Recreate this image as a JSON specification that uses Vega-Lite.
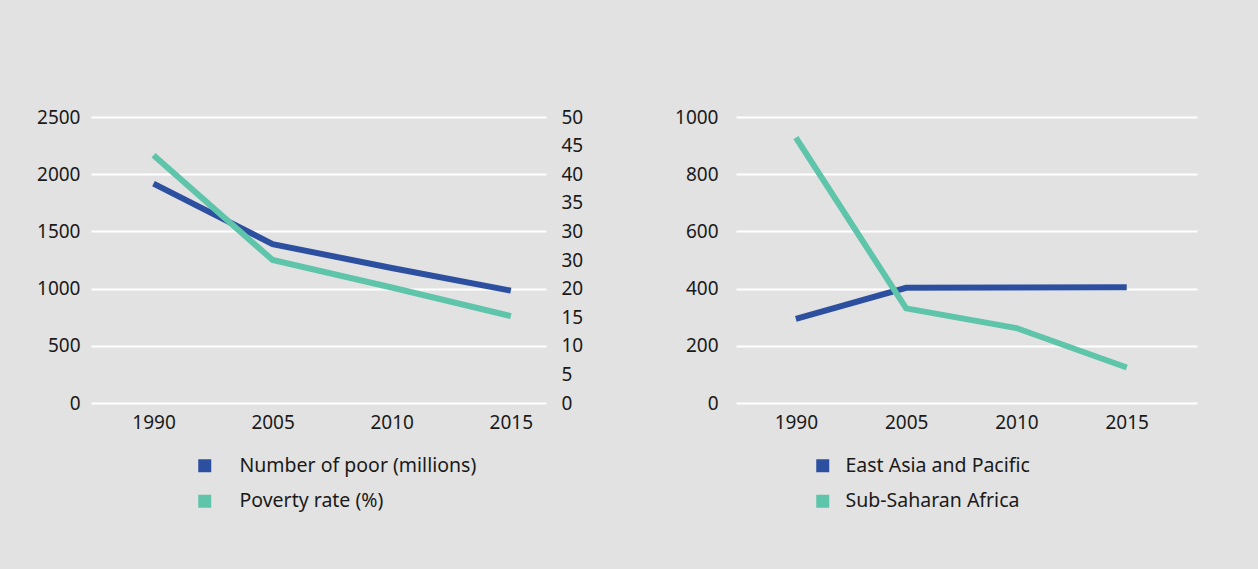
{
  "$schema": "https://vega.github.io/schema/vega-lite/v6.json",
  "background": "#e1e2e1",
  "padding": {"left": 36, "top": 108, "right": 61, "bottom": 59},
  "config": {
    "font": "Noto Sans",
    "view": {"stroke": null},
    "concat": {"spacing": 190},
    "axis": {
      "labelFont": "Noto Sans",
      "labelFontSize": 19,
      "labelColor": "#1a1a1a",
      "domain": false,
      "ticks": false,
      "title": null,
      "gridColor": "#ffffff",
      "gridWidth": 2,
      "gridOpacity": 1,
      "format": "d"
    },
    "legend": {
      "labelFont": "Noto Sans",
      "labelFontSize": 19.5,
      "labelColor": "#1a1a1a",
      "labelLimit": 0,
      "padding": 0
    }
  },
  "datasets": {
    "global": [
      {"year": "1990", "series": "Number of poor (millions)", "value": 1918},
      {"year": "2005", "series": "Number of poor (millions)", "value": 1389},
      {"year": "2010", "series": "Number of poor (millions)", "value": 1180},
      {"year": "2015", "series": "Number of poor (millions)", "value": 982},
      {"year": "1990", "series": "Poverty rate (%)", "value": 43.3},
      {"year": "2005", "series": "Poverty rate (%)", "value": 25.0},
      {"year": "2010", "series": "Poverty rate (%)", "value": 20.2},
      {"year": "2015", "series": "Poverty rate (%)", "value": 15.2}
    ],
    "regional": [
      {"year": "1990", "region": "East Asia and Pacific", "value": 294},
      {"year": "2005", "region": "East Asia and Pacific", "value": 403},
      {"year": "2010", "region": "East Asia and Pacific", "value": 404},
      {"year": "2015", "region": "East Asia and Pacific", "value": 405},
      {"year": "1990", "region": "Sub-Saharan Africa", "value": 928},
      {"year": "2005", "region": "Sub-Saharan Africa", "value": 331},
      {"year": "2010", "region": "Sub-Saharan Africa", "value": 262},
      {"year": "2015", "region": "Sub-Saharan Africa", "value": 124}
    ]
  },
  "hconcat": [
    {
      "width": 455,
      "height": 286,
      "data": {"name": "global"},
      "encoding": {
        "x": {
          "field": "year",
          "type": "ordinal",
          "scale": {"type": "point", "padding": 0.41, "align": 0.64},
          "axis": {"labelAngle": 0, "labelPadding": 10, "grid": false}
        },
        "color": {
          "field": "series",
          "type": "nominal",
          "scale": {
            "domain": ["Number of poor (millions)", "Poverty rate (%)"],
            "range": ["#2d4fa0", "#5ec5aa"]
          },
          "legend": {
            "orient": "none",
            "legendX": 104,
            "legendY": 339,
            "title": null,
            "symbolType": "square",
            "symbolSize": 169,
            "symbolStrokeWidth": 0,
            "labelOffset": 25,
            "rowPadding": 14.5,
            "encode": {
              "symbols": {
                "update": {
                  "fill": {"signal": "datum.value === 'Number of poor (millions)' ? '#2d4fa0' : '#5ec5aa'"},
                  "fillOpacity": {"value": 1}
                }
              }
            }
          }
        }
      },
      "layer": [
        {
          "transform": [{"filter": "datum.series === 'Number of poor (millions)'"}],
          "mark": {"type": "line", "strokeWidth": 6, "strokeCap": "butt"},
          "encoding": {
            "y": {
              "field": "value",
              "type": "quantitative",
              "scale": {"domain": [0, 2500]},
              "axis": {"orient": "left", "values": [0, 500, 1000, 1500, 2000, 2500], "labelPadding": 11, "grid": true}
            }
          }
        },
        {
          "transform": [{"filter": "datum.series === 'Poverty rate (%)'"}],
          "mark": {"type": "line", "strokeWidth": 6, "strokeCap": "butt"},
          "encoding": {
            "y": {
              "field": "value",
              "type": "quantitative",
              "scale": {"domain": [0, 50]},
              "axis": {
                "orient": "right",
                "values": [0, 5, 10, 15, 20, 25, 30, 35, 40, 45, 50],
                "labelExpr": "datum.value == 25 ? '30' : datum.label",
                "labelPadding": 15,
                "grid": false
              }
            }
          }
        }
      ],
      "resolve": {"scale": {"y": "independent"}}
    },
    {
      "width": 461,
      "height": 286,
      "data": {"name": "regional"},
      "mark": {"type": "line", "strokeWidth": 6, "strokeCap": "butt"},
      "encoding": {
        "x": {
          "field": "year",
          "type": "ordinal",
          "scale": {"type": "point", "padding": 0.59, "align": 0.46},
          "axis": {"labelAngle": 0, "labelPadding": 10, "grid": false}
        },
        "y": {
          "field": "value",
          "type": "quantitative",
          "scale": {"domain": [0, 1000]},
          "axis": {"values": [0, 200, 400, 600, 800, 1000], "labelPadding": 18, "grid": true}
        },
        "color": {
          "field": "region",
          "type": "nominal",
          "scale": {
            "domain": ["East Asia and Pacific", "Sub-Saharan Africa"],
            "range": ["#2d4fa0", "#5ec5aa"]
          },
          "legend": {
            "orient": "none",
            "legendX": 77,
            "legendY": 339,
            "title": null,
            "symbolType": "square",
            "symbolSize": 169,
            "symbolStrokeWidth": 0,
            "labelOffset": 13,
            "rowPadding": 14.5,
            "encode": {
              "symbols": {
                "update": {
                  "fill": {"signal": "datum.value === 'East Asia and Pacific' ? '#2d4fa0' : '#5ec5aa'"},
                  "fillOpacity": {"value": 1}
                }
              }
            }
          }
        }
      }
    }
  ],
  "resolve": {"scale": {"color": "independent"}},
  "bounds": "flush"
}
